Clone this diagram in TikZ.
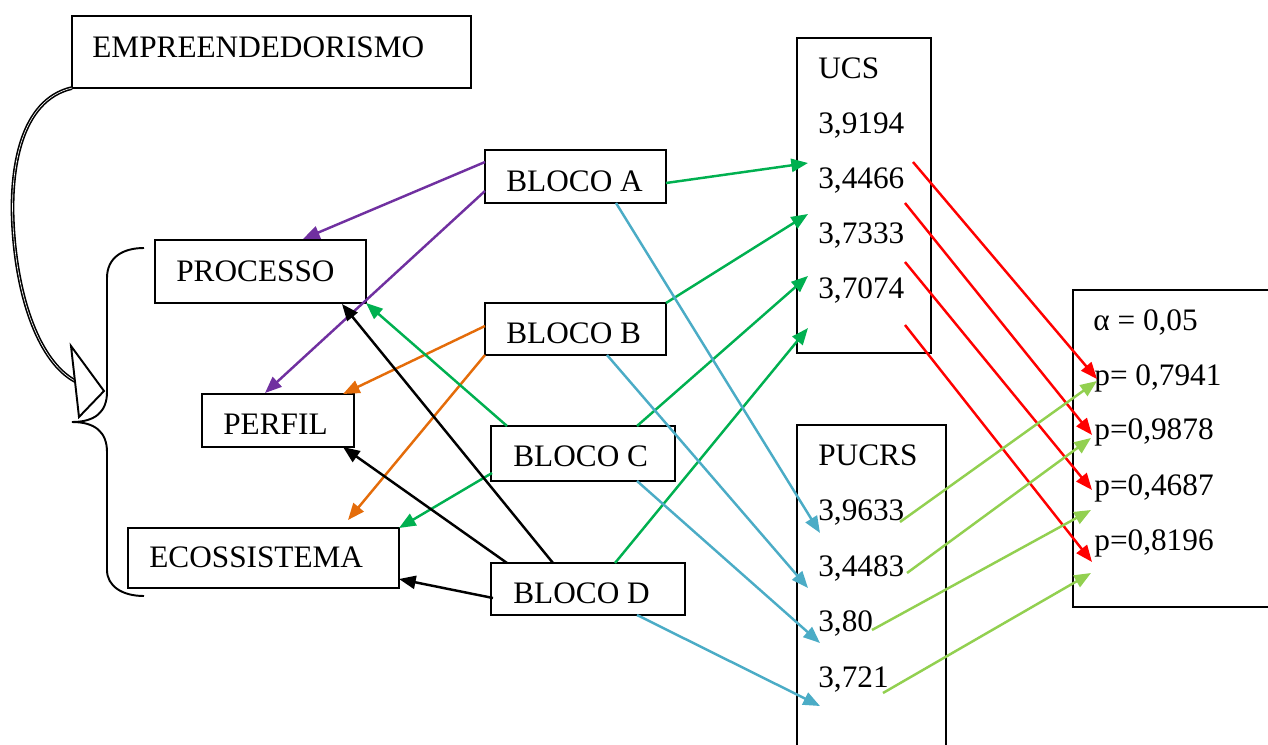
\documentclass[tikz,border=0pt]{standalone}
\usepackage{fontspec}
\setmainfont{Liberation Serif}
\usetikzlibrary{arrows.meta,calc}
\definecolor{cpurple}{HTML}{7030A0}
\definecolor{corange}{HTML}{E46C0A}
\definecolor{cgreen}{HTML}{00B050}
\definecolor{ccyan}{HTML}{4BACC6}
\definecolor{cred}{HTML}{FF0000}
\definecolor{clight}{HTML}{92D050}
\newcommand{\mkbox}[5]{\node[boxst, minimum width={(#4-#2)*0.02cm}, minimum height={(#5-#3)*0.02cm}] (#1) at ({(#2+#4)/2},{(#3+#5)/2}) {};}
\tikzset{
  boxst/.style={draw, line width=1.3pt, rectangle, inner sep=0pt, outer sep=0pt},
  lbl/.style={anchor=base west, inner sep=0pt, font=\fontsize{17.8}{21}\selectfont},
  arr/.style={line width=1.4pt, -{Triangle[length=9.5pt,width=7.5pt]}}
}
\begin{document}
\begin{tikzpicture}[x=0.02cm,y=-0.02cm]
\useasboundingbox (0,0) rectangle (1268,744);
% boxes
\mkbox{emp}{72}{16}{471}{88}
\mkbox{proc}{155}{240}{366}{303}
\mkbox{perf}{202}{394}{354}{447}
\mkbox{eco}{128}{528}{399}{588}
\mkbox{bA}{485}{150}{666}{203}
\mkbox{bB}{485}{303}{666}{355}
\mkbox{bC}{491}{426}{675}{481}
\mkbox{bD}{491}{563}{685}{615}
\mkbox{ucs}{797}{38}{931}{353}
\mkbox{pucrs}{797}{425}{946}{780}
\mkbox{alpha}{1073}{290}{1300}{607}
% texts
\node[lbl] (tEmp) at (92,57) {EMPREENDEDORISMO};
\node[lbl] (tProc) at (176,281) {PROCESSO};
\node[lbl] (tPerf) at (223,434) {PERFIL};
\node[lbl] (tEco) at (149,567) {ECOSSISTEMA};
\node[lbl] (tA) at (506,191) {BLOCO A};
\node[lbl] (tB) at (506,343) {BLOCO B};
\node[lbl] (tC) at (513,466) {BLOCO C};
\node[lbl] (tD) at (513,603) {BLOCO D};
\node[lbl] (u0) at (818,78) {UCS};
\node[lbl] (u1) at (818,133) {3,9194};
\node[lbl] (u2) at (818,188) {3,4466};
\node[lbl] (u3) at (818,243) {3,7333};
\node[lbl] (u4) at (818,298) {3,7074};
\node[lbl] (p0) at (818,465) {PUCRS};
\node[lbl] (p1) at (818,520) {3,9633};
\node[lbl] (p2) at (818,576) {3,4483};
\node[lbl] (p3) at (818,631) {3,80};
\node[lbl] (p4) at (818,687) {3,721};
\node[lbl] (a0) at (1093,330) {α = 0,05};
\node[lbl] (a1) at (1094,385) {p= 0,7941};
\node[lbl] (a2) at (1094,439) {p=0,9878};
\node[lbl] (a3) at (1094,495) {p=0,4687};
\node[lbl] (a4) at (1094,550) {p=0,8196};
% curved arrow and brace
\draw[line width=0.9pt, double distance=0.35pt] (emp.south west) .. controls (20,100) and (10,170) .. (13,225) .. controls (17,300) and (40,362) .. (75,381);
\draw[line width=1.1pt, fill=white] (71,346) -- (104,391) -- (79,417) -- cycle;
\draw[line width=1.1pt] (144,248) .. controls (122,248) and (107,258) .. (107,278) -- (107,392) .. controls (107,412) and (95,422) .. (72,422) .. controls (95,422) and (107,432) .. (107,452) -- (107,570) .. controls (107,586) and (122,596) .. (144,596);
% purple
\draw[arr, cpurple] ($(bA.north west)+(0,12)$) -- ($(proc.north west)+(148,-1)$);
\draw[arr, cpurple] ($(bA.north west)+(0,41)$) -- ($(perf.north west)+(63,-1)$);
% orange
\draw[arr, corange] ($(bB.north west)+(0,23)$) -- ($(perf.north west)+(141,0)$);
\draw[arr, corange] (bB.south west) -- ($(eco.north west)+(220,-8)$);
% green left
\draw[arr, cgreen] ($(bC.north west)+(16,0)$) -- (proc.south east);
\draw[arr, cgreen] ($(bC.north west)+(1,47)$) -- (eco.north east);
% black
\draw[arr, black] ($(bD.north west)+(62,0)$) -- ($(proc.south east)+(-24,1)$);
\draw[arr, black] ($(bD.north west)+(16,0)$) -- ($(perf.south east)+(-11,0)$);
\draw[arr, black] ($(bD.north west)+(2,35)$) -- ($(eco.north east)+(0,51)$);
% green right
\draw[arr, cgreen] ($(bA.north east)+(0,33)$) -- ($(ucs.north west)+(11,125)$);
\draw[arr, cgreen] (bB.north east) -- ($(ucs.north west)+(11,176)$);
\draw[arr, cgreen] ($(bC.north west)+(146,0)$) -- ($(ucs.north west)+(11,238)$);
\draw[arr, cgreen] ($(bD.north west)+(124,0)$) -- ($(ucs.north west)+(11,290)$);
% cyan
\draw[arr, ccyan] ($(bA.south west)+(131,0)$) -- ($(pucrs.north west)+(23,108)$);
\draw[arr, ccyan] ($(bB.south west)+(122,0)$) -- ($(pucrs.north west)+(11,163)$);
\draw[arr, ccyan] ($(bC.south west)+(146,0)$) -- ($(pucrs.north west)+(23,218)$);
\draw[arr, ccyan] ($(bD.south west)+(146,0)$) -- ($(pucrs.north west)+(23,281)$);
% red
\draw[arr, cred] ($(ucs.north west)+(116,124)$) -- ($(alpha.north west)+(24,89)$);
\draw[arr, cred] ($(ucs.north west)+(108,165)$) -- ($(alpha.north west)+(19,145)$);
\draw[arr, cred] ($(ucs.north west)+(108,224)$) -- ($(alpha.north west)+(19,200)$);
\draw[arr, cred] ($(ucs.north west)+(108,287)$) -- ($(alpha.north west)+(19,272)$);
% light green
\draw[arr, clight] ($(pucrs.north west)+(103,97)$) -- ($(alpha.north west)+(24,91)$);
\draw[arr, clight] ($(pucrs.north west)+(110,148)$) -- ($(alpha.north west)+(18,148)$);
\draw[arr, clight] ($(pucrs.north west)+(75,205)$) -- ($(alpha.north west)+(18,220)$);
\draw[arr, clight] ($(pucrs.north west)+(86,268)$) -- ($(alpha.north west)+(18,283)$);
\end{tikzpicture}
\end{document}
